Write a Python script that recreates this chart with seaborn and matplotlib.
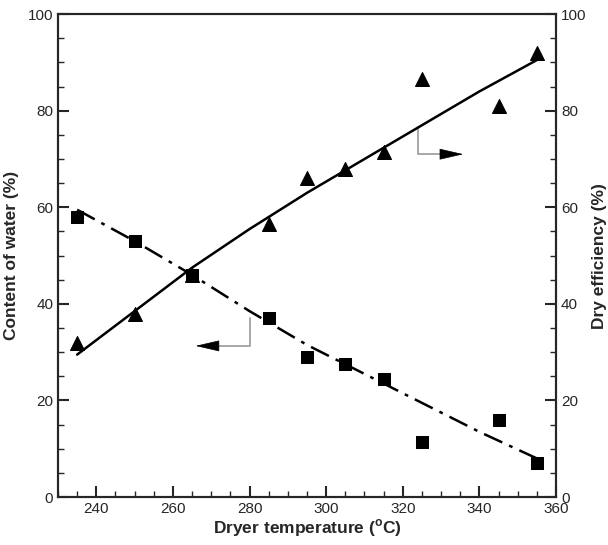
import matplotlib
matplotlib.use("Agg")
import matplotlib.pyplot as plt
import seaborn as sns
import pandas as pd
from matplotlib.ticker import MultipleLocator

# measured data
temps = [235, 250, 265, 285, 295, 305, 315, 325, 345, 355]
water = [58, 53, 46, 37, 29, 27.5, 24.5, 11.5, 16, 7]
efficiency = [32, 38, 46, 56.5, 66, 68, 71.5, 86.5, 81, 92]

# fitted curves
fit_temps = [235, 250, 265, 280, 295, 310, 325, 340, 355]
fit_water = [59.5, 53, 46, 38.5, 31.5, 25.5, 19.5, 13.5, 8]
fit_eff = [29.5, 38.5, 47.5, 55.5, 63, 70, 77, 84, 90.5]

df = pd.DataFrame({"temp": temps, "water": water, "eff": efficiency})
fit = pd.DataFrame({"temp": fit_temps, "water": fit_water, "eff": fit_eff})

sns.set_style("ticks")
plt.rcParams["font.family"] = ["Liberation Sans", "DejaVu Sans"]

fig = plt.figure(figsize=(6.08, 5.45), dpi=100)
ax = fig.add_axes([0.0954, 0.088, 0.8191, 0.886])
ax2 = ax.twinx()

# content of water (left axis)
sns.lineplot(data=fit, x="temp", y="water", ax=ax, color="black", lw=1.8,
             linestyle=(0, (8, 3, 1.5, 3)))
sns.scatterplot(data=df, x="temp", y="water", ax=ax, marker="s", s=85,
                color="black", edgecolor="black", zorder=3)

# dry efficiency (right axis)
sns.lineplot(data=fit, x="temp", y="eff", ax=ax2, color="black", lw=1.8)
sns.scatterplot(data=df, x="temp", y="eff", ax=ax2, marker="^", s=100,
                color="black", edgecolor="black", zorder=3)

# pointer brackets
gray = "#999999"
ax.plot([280, 280, 269], [37, 31.3, 31.3], color=gray, lw=1.2)
ax.annotate("", xy=(265.2, 31.3), xytext=(270, 31.3),
            arrowprops=dict(arrowstyle="-|>,head_length=1.3,head_width=0.3",
                            color="black", lw=0.5, mutation_scale=12))
ax.plot([324, 324, 333], [76.7, 71.0, 71.0], color=gray, lw=1.2)
ax.annotate("", xy=(336.5, 71.0), xytext=(332, 71.0),
            arrowprops=dict(arrowstyle="-|>,head_length=1.3,head_width=0.3",
                            color="black", lw=0.5, mutation_scale=12))

for a in (ax, ax2):
    a.set_xlim(230, 360)
    a.set_ylim(0, 100)
    a.yaxis.set_major_locator(MultipleLocator(20))
    a.yaxis.set_minor_locator(MultipleLocator(5))
    a.tick_params(which="major", direction="in", length=8, width=1.5, labelsize=11)
    a.tick_params(which="minor", direction="in", length=4, width=1)
    for s in a.spines.values():
        s.set_linewidth(1.5)
        s.set_visible(True)

ax.xaxis.set_major_locator(MultipleLocator(20))
ax.xaxis.set_minor_locator(MultipleLocator(5))
ax.tick_params(axis="x", which="both", top=False)
ax.tick_params(axis="y", which="both", right=False)
ax2.tick_params(axis="y", which="both", left=False, right=True)

ax.set_xlabel("Dryer temperature ($^{\\mathregular{o}}$C)", fontsize=12.5,
              fontweight="bold", labelpad=1)
ax.set_ylabel("Content of water (%)", fontsize=12.5, fontweight="bold", labelpad=6)
ax2.set_ylabel("Dry efficiency (%)", fontsize=12.5, fontweight="bold", labelpad=4)

fig.savefig("out.png", dpi=100)
